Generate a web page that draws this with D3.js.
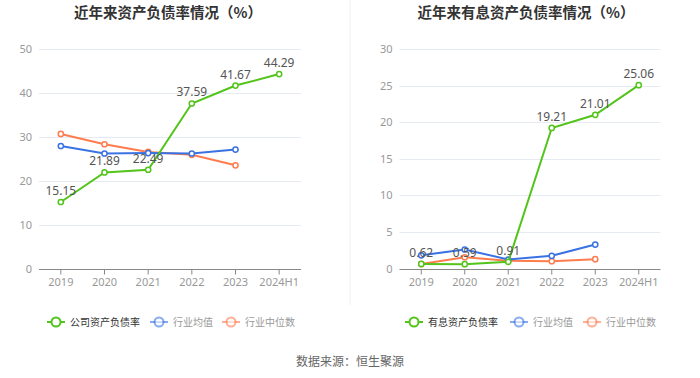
<!DOCTYPE html>
<html><head><meta charset="utf-8">
<script src="https://cdn.jsdelivr.net/npm/d3@7/dist/d3.min.js"></script>
<style>body{margin:0;background:#fff;font-family:"Noto Sans CJK SC","Noto Sans",sans-serif}</style>
</head><body><svg id="c" width="700" height="378"></svg>
<script>
const years = ["2019","2020","2021","2022","2023","2024H1"];
const leftTitle = "近年来资产负债率情况（%）";
const rightTitle = "近年来有息资产负债率情况（%）";
const leftCompany = [15.15, 21.89, 22.49, 37.59, 41.67, 44.29];
const leftAvg = [27.9, 26.2, 26.3, 26.2, 27.1];
const leftMedian = [30.65, 28.3, 26.55, 25.9, 23.5];
const rightCompany = [0.62, 0.59, 0.91, 19.21, 21.01, 25.06];
const rightAvg = [1.8, 2.6, 1.23, 1.73, 3.27];
const rightMedian = [0.6, 1.54, 1.05, 1.0, 1.27];
const leftTicks = [0, 10, 20, 30, 40, 50];
const rightTicks = [0, 5, 10, 15, 20, 25, 30];
const leftLegend = ["公司资产负债率", "行业均值", "行业中位数"];
const rightLegend = ["有息资产负债率", "行业均值", "行业中位数"];

const GREEN = "#52c41a", BLUE = "#3a72e4", ORANGE = "#ff7c4e";
const svg = d3.select("#c");

svg.append("line").attr("x1",350).attr("x2",350).attr("y1",0).attr("y2",305)
  .attr("stroke","#f0f0f0").attr("stroke-width",1);

function panel(x0, x1, title, titleX, ticks, max, company, avg, median, legend, legX) {
  const x = d3.scaleBand().domain(years).range([x0, x1]);
  const y = d3.scaleLinear().domain([0, max]).range([268.5, 49]);
  const g = svg.append("g");
  g.append("text").attr("x", titleX).attr("y", 18).attr("text-anchor","middle")
    .attr("font-size", 14.5).attr("font-weight", "bold").attr("fill", "#333").text(title);
  g.selectAll(".grid").data(ticks.filter(d=>d>0)).join("line")
    .attr("x1", x0).attr("x2", x1).attr("y1", d=>Math.round(y(d))+0.5).attr("y2", d=>Math.round(y(d))+0.5)
    .attr("stroke", "#e6eaf2").attr("stroke-width", 1);
  const ya = d3.axisLeft(y).tickValues(ticks).tickSize(0).tickPadding(0);
  const yg = g.append("g").attr("transform", `translate(${x0-7},0)`).call(ya);
  yg.select(".domain").remove();
  yg.selectAll("text").attr("font-size", 11).attr("fill", "#999").attr("font-family", "'Noto Sans','Noto Sans CJK SC',sans-serif");
  const xa = d3.axisBottom(x).tickSize(5).tickPadding(4);
  const xg = g.append("g").attr("transform", `translate(0,${Math.round(y(0))+0.5})`).call(xa);
  xg.select(".domain").attr("stroke", "#888").attr("d", `M${x0},0H${x1}`);
  xg.selectAll(".tick line").attr("stroke", "#888");
  xg.selectAll("text").attr("font-size", 11).attr("fill", "#999").attr("font-family", "'Noto Sans','Noto Sans CJK SC',sans-serif");
  const cx = d => x(d) + x.bandwidth()/2;
  const line = d3.line().x((d,i)=>cx(years[i])).y(d=>y(d));
  const series = [[median, ORANGE], [avg, BLUE], [company, GREEN]];
  series.forEach(([data, col]) => {
    g.append("path").attr("d", line(data)).attr("fill","none").attr("stroke", col).attr("stroke-width", 2);
    g.selectAll(null).data(data).join("circle")
      .attr("cx", (d,i)=>cx(years[i])).attr("cy", d=>y(d)).attr("r", 2.6)
      .attr("fill", "#fff").attr("stroke", col).attr("stroke-width", 1.5);
  });
  g.selectAll(null).data(company).join("text")
    .attr("x", (d,i)=>cx(years[i])).attr("y", d=>y(d)-7)
    .attr("text-anchor","middle").attr("font-size", 12).attr("fill", "#555")
    .attr("font-family", "'Noto Sans','Noto Sans CJK SC',sans-serif")
    .text(d=>d.toFixed(2));
  const cols = [GREEN, BLUE, ORANGE];
  const op = [1, 0.6, 0.6];
  const tc = ["#333", "#999", "#999"];
  legX.forEach((lx, i) => {
    const lg = g.append("g").attr("transform", `translate(${lx},322)`);
    lg.append("line").attr("x1",0).attr("x2",18).attr("y1",0).attr("y2",0).attr("stroke",cols[i]).attr("stroke-width",2).attr("opacity",op[i]);
    lg.append("circle").attr("cx",9).attr("cy",0).attr("r",4.5).attr("fill","#fff").attr("stroke",cols[i]).attr("stroke-width",2).attr("opacity",op[i]);
    lg.append("text").attr("x",23).attr("y",3.5).attr("font-size",10).attr("fill",tc[i]).text(legend[i]);
  });
}

panel(39, 301, leftTitle, 168, leftTicks, 50, leftCompany, leftAvg, leftMedian, leftLegend, [47, 150, 222]);
panel(399.5, 660.5, rightTitle, 526, rightTicks, 30, rightCompany, rightAvg, rightMedian, rightLegend, [405, 510, 583]);

svg.append("text").attr("x", 350).attr("y", 366).attr("text-anchor","middle")
  .attr("font-size", 12).attr("fill", "#666").text("数据来源：恒生聚源");
</script></body></html>
